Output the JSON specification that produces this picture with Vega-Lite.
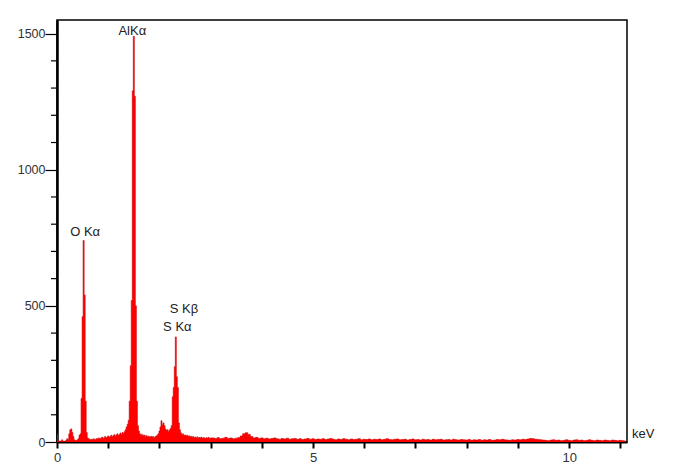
{
  "$schema": "https://vega.github.io/schema/vega-lite/v6.json",
  "width": 570,
  "height": 422,
  "autosize": "none",
  "padding": {"left": 57, "top": 20, "right": 58, "bottom": 23},
  "background": "white",
  "config": {
    "view": {"stroke": "#000", "strokeWidth": 1.5},
    "font": "Liberation Sans"
  },
  "datasets": {
    "spec": [
      {"e":0.00,"c":28},{"e":0.02,"c":5},{"e":0.04,"c":3},{"e":0.06,"c":2},{"e":0.08,"c":4},{"e":0.10,"c":8},{"e":0.12,"c":3},{"e":0.14,"c":2},{"e":0.16,"c":3},{"e":0.18,"c":6},
      {"e":0.20,"c":12},{"e":0.22,"c":8},{"e":0.24,"c":30},{"e":0.26,"c":45},{"e":0.28,"c":48},{"e":0.30,"c":35},{"e":0.32,"c":20},{"e":0.34,"c":8},{"e":0.36,"c":5},{"e":0.38,"c":6},
      {"e":0.40,"c":8},{"e":0.42,"c":12},{"e":0.44,"c":25},{"e":0.46,"c":30},{"e":0.48,"c":160},{"e":0.50,"c":460},{"e":0.52,"c":740},{"e":0.54,"c":540},{"e":0.56,"c":150},{"e":0.58,"c":35},
      {"e":0.60,"c":15},{"e":0.62,"c":12},{"e":0.64,"c":10},{"e":0.66,"c":8},{"e":0.68,"c":10},{"e":0.70,"c":9},{"e":0.72,"c":12},{"e":0.74,"c":8},{"e":0.76,"c":10},{"e":0.78,"c":13},
      {"e":0.80,"c":11},{"e":0.82,"c":15},{"e":0.84,"c":12},{"e":0.86,"c":14},{"e":0.88,"c":18},{"e":0.90,"c":13},{"e":0.92,"c":16},{"e":0.94,"c":20},{"e":0.96,"c":15},{"e":0.98,"c":18},
      {"e":1.00,"c":22},{"e":1.02,"c":17},{"e":1.04,"c":20},{"e":1.06,"c":25},{"e":1.08,"c":19},{"e":1.10,"c":23},{"e":1.12,"c":27},{"e":1.14,"c":21},{"e":1.16,"c":26},{"e":1.18,"c":30},
      {"e":1.20,"c":24},{"e":1.22,"c":28},{"e":1.24,"c":33},{"e":1.26,"c":27},{"e":1.28,"c":35},{"e":1.30,"c":30},{"e":1.32,"c":38},{"e":1.34,"c":45},{"e":1.36,"c":55},{"e":1.38,"c":65},
      {"e":1.40,"c":80},{"e":1.42,"c":150},{"e":1.44,"c":280},{"e":1.46,"c":520},{"e":1.48,"c":1290},{"e":1.50,"c":1490},{"e":1.52,"c":1270},{"e":1.54,"c":500},{"e":1.56,"c":150},{"e":1.58,"c":60},
      {"e":1.60,"c":40},{"e":1.62,"c":30},{"e":1.64,"c":25},{"e":1.66,"c":28},{"e":1.68,"c":22},{"e":1.70,"c":26},{"e":1.72,"c":20},{"e":1.74,"c":24},{"e":1.76,"c":18},{"e":1.78,"c":22},
      {"e":1.80,"c":20},{"e":1.82,"c":17},{"e":1.84,"c":21},{"e":1.86,"c":18},{"e":1.88,"c":20},{"e":1.90,"c":16},{"e":1.92,"c":19},{"e":1.94,"c":22},{"e":1.96,"c":25},{"e":1.98,"c":30},
      {"e":2.00,"c":40},{"e":2.02,"c":55},{"e":2.04,"c":78},{"e":2.06,"c":62},{"e":2.08,"c":70},{"e":2.10,"c":60},{"e":2.12,"c":48},{"e":2.14,"c":42},{"e":2.16,"c":45},{"e":2.18,"c":38},
      {"e":2.20,"c":44},{"e":2.22,"c":50},{"e":2.24,"c":60},{"e":2.26,"c":166},{"e":2.28,"c":200},{"e":2.30,"c":276},{"e":2.32,"c":386},{"e":2.34,"c":240},{"e":2.36,"c":200},{"e":2.38,"c":70},
      {"e":2.40,"c":45},{"e":2.42,"c":34},{"e":2.44,"c":28},{"e":2.46,"c":30},{"e":2.48,"c":24},{"e":2.50,"c":26},{"e":2.52,"c":22},{"e":2.54,"c":25},{"e":2.56,"c":20},{"e":2.58,"c":23},
      {"e":2.60,"c":19},{"e":2.62,"c":21},{"e":2.64,"c":17},{"e":2.66,"c":20},{"e":2.68,"c":16},{"e":2.70,"c":18},{"e":2.72,"c":15},{"e":2.74,"c":19},{"e":2.76,"c":14},{"e":2.78,"c":17},
      {"e":2.80,"c":15},{"e":2.82,"c":18},{"e":2.84,"c":14},{"e":2.86,"c":16},{"e":2.88,"c":15},{"e":2.90,"c":13},{"e":2.92,"c":16},{"e":2.94,"c":14},{"e":2.96,"c":17},{"e":2.98,"c":13},
      {"e":3.00,"c":15},{"e":3.05,"c":15},{"e":3.10,"c":13},{"e":3.15,"c":16},{"e":3.20,"c":12},{"e":3.25,"c":14},{"e":3.30,"c":17},{"e":3.35,"c":13},{"e":3.40,"c":15},{"e":3.45,"c":12},
      {"e":3.50,"c":14},{"e":3.55,"c":16},{"e":3.60,"c":22},{"e":3.65,"c":30},{"e":3.70,"c":34},{"e":3.75,"c":28},{"e":3.80,"c":20},{"e":3.85,"c":15},{"e":3.90,"c":17},{"e":3.95,"c":13},
      {"e":4.00,"c":15},{"e":4.05,"c":12},{"e":4.10,"c":14},{"e":4.15,"c":11},{"e":4.20,"c":13},{"e":4.25,"c":15},{"e":4.30,"c":12},{"e":4.35,"c":10},{"e":4.40,"c":13},{"e":4.45,"c":11},
      {"e":4.50,"c":14},{"e":4.55,"c":10},{"e":4.60,"c":12},{"e":4.65,"c":13},{"e":4.70,"c":10},{"e":4.75,"c":12},{"e":4.80,"c":9},{"e":4.85,"c":11},{"e":4.90,"c":13},{"e":4.95,"c":10},
      {"e":5.00,"c":12},{"e":5.05,"c":9},{"e":5.10,"c":11},{"e":5.15,"c":10},{"e":5.20,"c":12},{"e":5.25,"c":9},{"e":5.30,"c":11},{"e":5.35,"c":13},{"e":5.40,"c":10},{"e":5.45,"c":8},
      {"e":5.50,"c":11},{"e":5.55,"c":9},{"e":5.60,"c":12},{"e":5.65,"c":10},{"e":5.70,"c":8},{"e":5.75,"c":11},{"e":5.80,"c":9},{"e":5.85,"c":10},{"e":5.90,"c":12},{"e":5.95,"c":8},
      {"e":6.00,"c":10},{"e":6.05,"c":9},{"e":6.10,"c":11},{"e":6.15,"c":8},{"e":6.20,"c":10},{"e":6.25,"c":9},{"e":6.30,"c":11},{"e":6.35,"c":8},{"e":6.40,"c":10},{"e":6.45,"c":12},
      {"e":6.50,"c":9},{"e":6.55,"c":8},{"e":6.60,"c":10},{"e":6.65,"c":11},{"e":6.70,"c":8},{"e":6.75,"c":9},{"e":6.80,"c":10},{"e":6.85,"c":7},{"e":6.90,"c":9},{"e":6.95,"c":11},
      {"e":7.00,"c":8},{"e":7.05,"c":9},{"e":7.10,"c":7},{"e":7.15,"c":10},{"e":7.20,"c":8},{"e":7.25,"c":9},{"e":7.30,"c":7},{"e":7.35,"c":10},{"e":7.40,"c":8},{"e":7.45,"c":9},
      {"e":7.50,"c":10},{"e":7.55,"c":7},{"e":7.60,"c":8},{"e":7.65,"c":9},{"e":7.70,"c":7},{"e":7.75,"c":10},{"e":7.80,"c":8},{"e":7.85,"c":7},{"e":7.90,"c":9},{"e":7.95,"c":8},
      {"e":8.00,"c":7},{"e":8.05,"c":9},{"e":8.10,"c":6},{"e":8.15,"c":8},{"e":8.20,"c":7},{"e":8.25,"c":9},{"e":8.30,"c":6},{"e":8.35,"c":8},{"e":8.40,"c":7},{"e":8.45,"c":9},
      {"e":8.50,"c":6},{"e":8.55,"c":7},{"e":8.60,"c":9},{"e":8.65,"c":8},{"e":8.70,"c":10},{"e":8.75,"c":8},{"e":8.80,"c":7},{"e":8.85,"c":6},{"e":8.90,"c":8},{"e":8.95,"c":7},
      {"e":9.00,"c":9},{"e":9.05,"c":8},{"e":9.10,"c":10},{"e":9.15,"c":9},{"e":9.20,"c":11},{"e":9.25,"c":13},{"e":9.30,"c":12},{"e":9.35,"c":10},{"e":9.40,"c":9},{"e":9.45,"c":8},
      {"e":9.50,"c":7},{"e":9.55,"c":6},{"e":9.60,"c":5},{"e":9.65,"c":7},{"e":9.70,"c":8},{"e":9.75,"c":6},{"e":9.80,"c":7},{"e":9.85,"c":5},{"e":9.90,"c":6},{"e":9.95,"c":8},
      {"e":10.00,"c":6},{"e":10.05,"c":5},{"e":10.10,"c":7},{"e":10.15,"c":8},{"e":10.20,"c":6},{"e":10.25,"c":7},{"e":10.30,"c":5},{"e":10.35,"c":6},{"e":10.40,"c":8},{"e":10.45,"c":6},
      {"e":10.50,"c":5},{"e":10.55,"c":7},{"e":10.60,"c":6},{"e":10.65,"c":5},{"e":10.70,"c":7},{"e":10.75,"c":6},{"e":10.80,"c":5},{"e":10.85,"c":7},{"e":10.90,"c":6},{"e":10.95,"c":5},
      {"e":11.00,"c":6},{"e":11.05,"c":5},{"e":11.10,"c":4}
    ],
    "labels": [
      {"t":"AlKα","e":1.47,"c":1510},
      {"t":"O Kα","e":0.55,"c":772},
      {"t":"S Kβ","e":2.48,"c":489},
      {"t":"S Kα","e":2.35,"c":423}
    ],
    "unit": [
      {"t":"keV","e":11.13,"c":29}
    ],
    "minor": [
      {"e":0,"c":100},{"e":0,"c":200},{"e":0,"c":300},{"e":0,"c":400},
      {"e":0,"c":600},{"e":0,"c":700},{"e":0,"c":800},{"e":0,"c":900},
      {"e":0,"c":1100},{"e":0,"c":1200},{"e":0,"c":1300},{"e":0,"c":1400}
    ]
  },
  "layer": [
    {
      "data": {"name": "spec"},
      "mark": {"type": "area", "interpolate": "step", "color": "#ff0000", "opacity": 1, "line": {"color": "#d00000", "strokeWidth": 0.6}},
      "encoding": {
        "x": {
          "field": "e", "type": "quantitative",
          "scale": {"domain": [0, 11.13], "nice": false, "zero": false},
          "axis": {
            "title": null, "grid": false,
            "values": [0,1,2,3,4,5,6,7,8,9,10,11],
            "labelExpr": "datum.value % 5 === 0 ? datum.label : ''",
            "labelOverlap": false,
            "domainColor": "#000", "domainWidth": 2,
            "tickColor": "#000", "tickWidth": 2, "tickSize": 6,
            "labelFontSize": 13, "labelColor": "#333", "labelFont": "Liberation Sans", "labelPadding": 3,
            "labelFlush": false
          }
        },
        "y": {
          "field": "c", "type": "quantitative",
          "scale": {"domain": [0, 1550], "nice": false},
          "axis": {
            "title": null, "grid": false,
            "values": [0,500,1000,1500],
            "format": "d",
            "labelOverlap": false,
            "domainColor": "#000", "domainWidth": 2.5,
            "tickColor": "#000", "tickWidth": 1.2, "tickSize": 12,
            "labelFontSize": 12.5, "labelColor": "#333", "labelFont": "Liberation Sans", "labelPadding": 0,
            "labelFlush": false
          }
        }
      }
    },
    {
      "data": {"name": "minor"},
      "mark": {"type": "tick", "orient": "horizontal", "color": "#000", "size": 6, "thickness": 1.2, "xOffset": -3, "opacity": 1},
      "encoding": {
        "x": {"field": "e", "type": "quantitative"},
        "y": {"field": "c", "type": "quantitative"}
      }
    },
    {
      "data": {"name": "labels"},
      "mark": {"type": "text", "font": "Liberation Sans", "fontSize": 13, "color": "#222", "baseline": "middle", "align": "center"},
      "encoding": {
        "x": {"field": "e", "type": "quantitative"},
        "y": {"field": "c", "type": "quantitative"},
        "text": {"field": "t"}
      }
    },
    {
      "data": {"name": "unit"},
      "mark": {"type": "text", "font": "Liberation Sans", "fontSize": 13, "color": "#222", "baseline": "middle", "align": "left", "dx": 5},
      "encoding": {
        "x": {"field": "e", "type": "quantitative"},
        "y": {"field": "c", "type": "quantitative"},
        "text": {"field": "t"}
      }
    }
  ]
}
